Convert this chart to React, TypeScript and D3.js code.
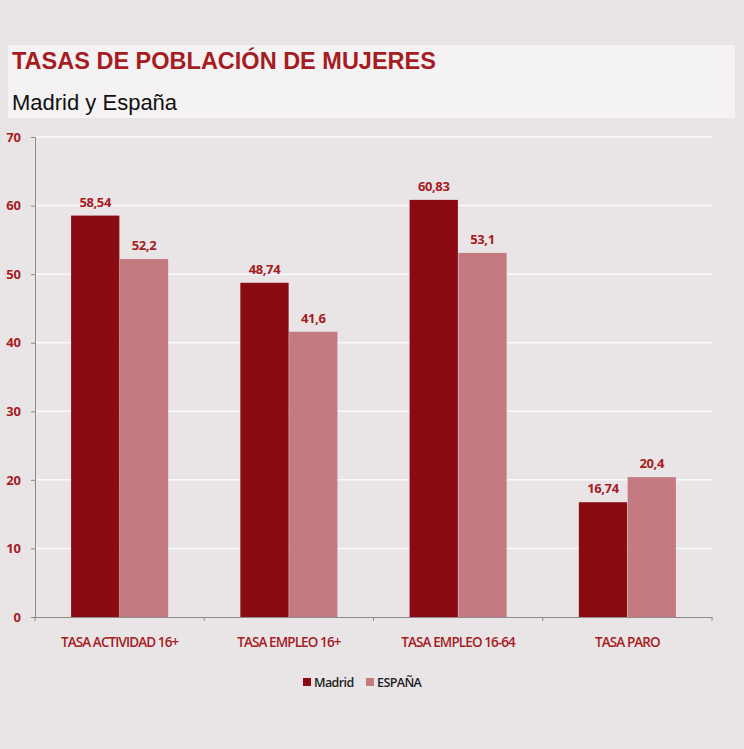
import React, { useEffect, useRef } from "react";
import * as d3 from "d3";

const categories = ["TASA ACTIVIDAD 16+", "TASA EMPLEO 16+", "TASA EMPLEO 16-64", "TASA PARO"];
const seriesNames = ["Madrid", "ESPAÑA"];
const madrid = [58.54, 48.74, 60.83, 16.74];
const espana = [52.2, 41.6, 53.1, 20.4];
const yTicks = [0, 10, 20, 30, 40, 50, 60, 70];
const colors = ["#8a0c12", "#c37a80"];

const W = 744;
const H = 749;

const App: React.FC = () => {
  const svgRef = useRef<SVGSVGElement>(null);

  useEffect(() => {
    if (!svgRef.current) return;
    const svg = d3.select(svgRef.current);
    svg.selectAll("*").remove();

    const font = "'Open Sans', sans-serif";
    const red = "#a51c22";

    // background
    svg.append("rect").attr("width", W).attr("height", H).attr("fill", "#e9e5e7");

    // title box
    svg.append("rect")
      .attr("x", 8).attr("y", 45).attr("width", 727).attr("height", 73)
      .attr("fill", "#f4f2f3");
    svg.append("text")
      .attr("x", 12).attr("y", 69)
      .attr("fill", red)
      .style("font-family", "'Liberation Sans', Arial, sans-serif")
      .style("font-size", "23.5px").style("font-weight", "bold")
      .text("TASAS DE POBLACIÓN DE MUJERES");
    svg.append("text")
      .attr("x", 12).attr("y", 110)
      .attr("fill", "#111")
      .style("font-family", "'Liberation Sans', Arial, sans-serif")
      .style("font-size", "22px")
      .text("Madrid y España");

    const left = 35, right = 712, top = 137, bottom = 617;

    const x = d3.scaleBand().domain(categories).range([left, right]).paddingInner(0).paddingOuter(0);
    const xs = d3.scaleBand().domain(seriesNames).range([0, x.bandwidth()]).paddingInner(0.01).paddingOuter(0.74);
    const y = d3.scaleLinear().domain([0, 70]).range([bottom, top]);

    // gridlines
    svg.append("g").selectAll("line")
      .data(yTicks.filter((t) => t > 0))
      .enter().append("line")
      .attr("x1", left).attr("x2", right)
      .attr("y1", (d) => y(d)).attr("y2", (d) => y(d))
      .attr("stroke", "#fbfafa").attr("stroke-width", 1.5);

    // bars
    const values = [madrid, espana];
    seriesNames.forEach((s, si) => {
      svg.append("g").selectAll("rect")
        .data(values[si])
        .enter().append("rect")
        .attr("x", (_, i) => (x(categories[i]) || 0) + (xs(s) || 0))
        .attr("y", (d) => y(d))
        .attr("width", xs.bandwidth())
        .attr("height", (d) => bottom - y(d))
        .attr("fill", colors[si]);

      svg.append("g").selectAll("text")
        .data(values[si])
        .enter().append("text")
        .attr("x", (_, i) => (x(categories[i]) || 0) + (xs(s) || 0) + xs.bandwidth() / 2)
        .attr("y", (d) => y(d) - 9)
        .attr("text-anchor", "middle")
        .attr("fill", red)
        .style("font-family", font)
        .style("font-size", "13px").style("font-weight", "bold")
        .style("letter-spacing", "-0.4px")
        .text((d) => String(d).replace(".", ","));
    });

    // y axis
    const yAxis = svg.append("g")
      .attr("transform", `translate(${left},0)`)
      .call(d3.axisLeft(y).tickValues(yTicks).tickSize(4).tickPadding(10));
    yAxis.select(".domain").attr("stroke", "#8c8a8c");
    yAxis.selectAll(".tick line").attr("stroke", "#8c8a8c");
    yAxis.selectAll(".tick text")
      .attr("fill", red)
      .style("font-family", font)
      .style("font-size", "13px").style("font-weight", "bold");

    // x axis
    const xAxis = svg.append("g")
      .attr("transform", `translate(0,${bottom})`)
      .call(d3.axisBottom(x).tickSize(0).tickPadding(20));
    xAxis.select(".domain").attr("stroke", "#8c8a8c");
    xAxis.selectAll(".tick text")
      .attr("fill", red)
      .style("font-family", font)
      .style("font-size", "13.5px")
      .style("font-weight", "600")
      .style("letter-spacing", "-0.9px");
    svg.append("g").selectAll("line")
      .data(d3.range(categories.length + 1))
      .enter().append("line")
      .attr("x1", (i) => left + i * x.step()).attr("x2", (i) => left + i * x.step())
      .attr("y1", bottom).attr("y2", bottom + 4)
      .attr("stroke", "#8c8a8c");

    // legend
    const legend = svg.append("g").attr("transform", "translate(303,687)");
    const offsets = [0, 63];
    seriesNames.forEach((s, i) => {
      legend.append("rect")
        .attr("x", offsets[i]).attr("y", -9).attr("width", 8).attr("height", 8)
        .attr("fill", colors[i]);
      legend.append("text")
        .attr("x", offsets[i] + 11).attr("y", 0)
        .attr("fill", "#222")
        .style("font-family", font)
        .style("font-size", "12.5px")
        .style("font-weight", "600")
        .style("letter-spacing", "-0.6px")
        .text(s);
    });
  }, []);

  return (
    <svg
      ref={svgRef}
      width={W}
      height={H}
      style={{ display: "block", position: "absolute", left: 0, top: 0 }}
    />
  );
};

export default App;
